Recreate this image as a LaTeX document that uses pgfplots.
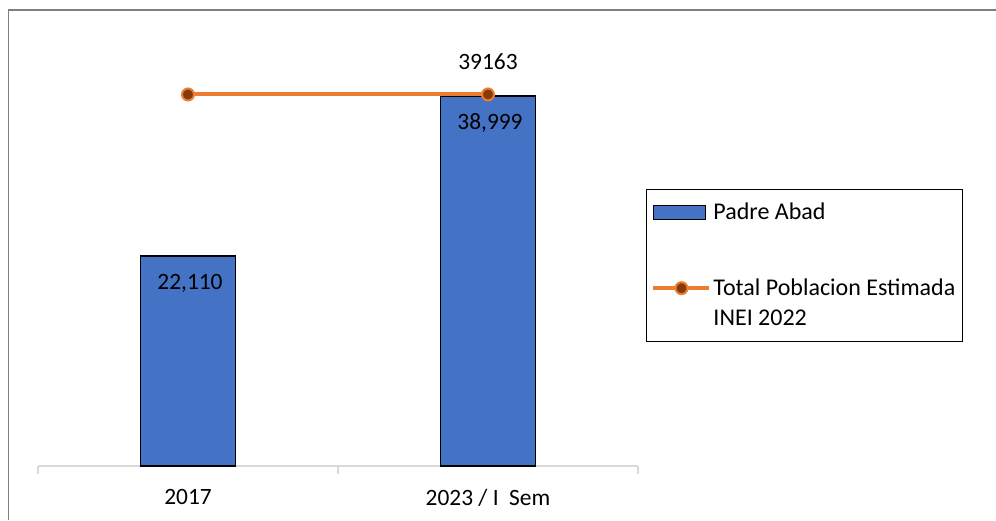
\documentclass[border=0pt]{standalone}
\usepackage{fontspec}
\setmainfont{Carlito}
\usepackage{pgfplots}
\pgfplotsset{compat=1.18}
\definecolor{barblue}{HTML}{4472C4}
\definecolor{lineorange}{HTML}{ED7D31}
\definecolor{markbrown}{HTML}{843C0C}
\definecolor{axisgray}{HTML}{D9D9D9}
\definecolor{framegray}{HTML}{7F7F7F}
\pgfplotsset{
  barlegend/.style={legend image code/.code={\draw[##1] (0pt,-3.5pt) rectangle (26pt,3.5pt);}},
  linelegend/.style={legend image code/.code={\draw[mark repeat=2,mark phase=2,##1] plot coordinates {(0pt,6.5pt) (14pt,6.5pt) (28pt,6.5pt)};}},
}
\begin{document}
\begin{tikzpicture}
\path[use as bounding box] (0,0) rectangle (498pt,-260pt);
\draw[framegray, line width=0.75pt] (4.25pt,-260pt) -- (4.25pt,-5pt) -- (498pt,-5pt);
\begin{axis}[
  at={(19pt,-233pt)}, anchor=south west,
  scale only axis, width=300pt, height=222.95pt,
  xmin=-0.5, xmax=1.5, ymin=0, ymax=47000,
  axis y line=none,
  axis x line*=bottom,
  x axis line style={draw=axisgray, line width=0.75pt, -},
  xtick={0,1}, xticklabels={2017, 2023 / I\ \ Sem},
  minor xtick={-0.5,0.5,1.5},
  major tick length=0pt, minor tick length=4pt, tick align=outside,
  tick style={draw=axisgray, line width=0.75pt},
  xticklabel style={yshift=-8pt},
  font=\fontsize{11.7}{15}\selectfont,
  /pgf/number format/assume math mode=true,
  clip=false,
  legend style={at={(1.0133,0.6212)}, anchor=north west, draw=black, line width=0.5pt,
    font=\fontsize{12}{15}\selectfont, row sep=22pt, inner xsep=2.5pt, inner ysep=4.5pt,
    nodes={inner xsep=1pt}},
  legend cell align=left,
]
\addplot[ybar, bar width=47.5pt, bar shift=0pt, fill=barblue, draw=black, line width=0.75pt,
  nodes near coords,
  nodes near coords style={anchor=center, yshift=-13.5pt, xshift=1pt, text=black,
    /pgf/number format/.cd, fixed, 1000 sep={,}, assume math mode=true},
  barlegend]
  coordinates {(0,22110) (1,38999)};
\addlegendentry{Padre Abad}
\addplot[lineorange, line width=2pt, mark=*, mark size=3pt,
  mark options={fill=markbrown, draw=lineorange, line width=1pt},
  point meta=explicit symbolic,
  nodes near coords,
  nodes near coords style={anchor=center, yshift=16.5pt, text=black},
  linelegend]
  coordinates {(0,39163) [] (1,39163) [39163]};
\addlegendentry{\raisebox{0pt}[\height][2.5pt]{\begin{tabular}[b]{@{}l@{}}Total Poblacion Estimada\\INEI 2022\end{tabular}}}
\end{axis}
\end{tikzpicture}
\end{document}
